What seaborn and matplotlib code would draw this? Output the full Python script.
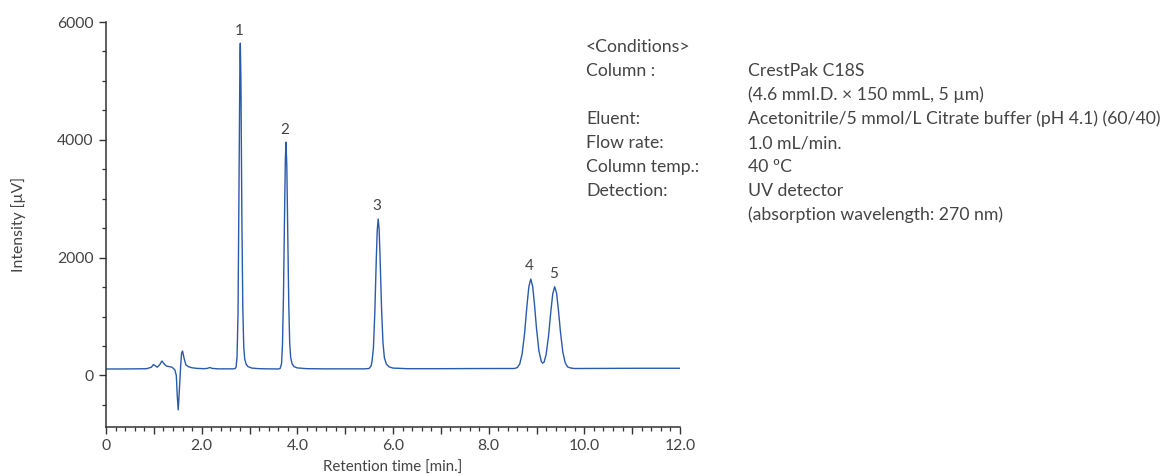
import matplotlib
matplotlib.use("Agg")
import matplotlib.pyplot as plt
import matplotlib.ticker as mticker
import seaborn as sns
import pandas as pd

# ---- data: chromatogram trace ----
time_min = [
    0.0, 0.3, 0.6, 0.85, 0.95, 0.99, 1.03, 1.07, 1.12, 1.17, 1.21, 1.26, 1.32, 1.38,
    1.44, 1.47, 1.49, 1.51, 1.53, 1.56, 1.58, 1.60, 1.63, 1.67, 1.72, 1.80, 1.90,
    2.05, 2.12, 2.17, 2.22, 2.35, 2.50, 2.66,
    2.70, 2.72, 2.74, 2.76, 2.78, 2.80, 2.808, 2.82, 2.84, 2.86, 2.88, 2.90, 2.93,
    2.97, 3.05, 3.20, 3.40, 3.60,
    3.64, 3.67, 3.69, 3.71, 3.73, 3.75, 3.763, 3.78, 3.80, 3.82, 3.84, 3.86, 3.89,
    3.93, 4.00, 4.20, 4.60, 5.00, 5.40,
    5.50, 5.54, 5.56, 5.59, 5.62, 5.65, 5.67, 5.69, 5.71, 5.73, 5.76, 5.79, 5.82,
    5.86, 5.92, 6.00, 6.30, 7.00, 7.60, 8.20, 8.50,
    8.55, 8.60, 8.65, 8.70, 8.75, 8.80, 8.84, 8.88, 8.92, 8.96, 9.00, 9.05, 9.10,
    9.13, 9.16, 9.20, 9.25, 9.30, 9.34, 9.38, 9.42, 9.46, 9.50, 9.55, 9.60, 9.65,
    9.72, 9.80, 10.5, 11.2, 12.0,
]
intensity_uv = [
    110, 110, 112, 115, 140, 185, 165, 140, 180, 245, 200, 160, 150, 140,
    95, 0, -350, -585, -300, 150, 380, 415, 300, 180, 150, 130, 120,
    115, 120, 135, 120, 112, 112, 112,
    118, 145, 320, 1050, 3150, 5400, 5640, 5050, 2700, 1150, 480, 280, 190,
    150, 125, 115, 112, 110,
    118, 200, 540, 1340, 2580, 3690, 3960, 3560, 2400, 1250, 560, 310, 200,
    150, 128, 115, 112, 112, 112,
    118, 160, 230, 460, 1070, 1960, 2460, 2655, 2480, 2000, 1150, 560, 300,
    195, 145, 125, 115, 115, 117, 118, 118,
    120, 135, 196, 369, 708, 1180, 1506, 1637, 1510, 1185, 800, 422, 236,
    210, 229, 352, 657, 1090, 1387, 1506, 1395, 1095, 745, 400, 215, 145,
    125, 118, 120, 122, 122,
]

# peak labels and their apex positions
peak_labels = ["1", "2", "3", "4", "5"]
peak_times = [2.808, 3.763, 5.69, 8.88, 9.38]
peak_heights = [5640, 3960, 2655, 1637, 1506]

x_tick_values = [0, 2, 4, 6, 8, 10, 12]
x_tick_labels = ["0", "2.0", "4.0", "6.0", "8.0", "10.0", "12.0"]
y_tick_values = [0, 2000, 4000, 6000]

cond_labels = ["<Conditions>", "Column :", "", "Eluent:", "Flow rate:",
               "Column temp.:", "Detection:", ""]
cond_values = ["", "CrestPak C18S", "(4.6 mmI.D. \u00d7 150 mmL, 5 \u00b5m)",
               "Acetonitrile/5 mmol/L Citrate buffer (pH 4.1) (60/40)",
               "1.0 mL/min.", "40 \u00baC", "UV detector",
               "(absorption wavelength: 270 nm)"]

# ---- styling ----
sns.set_theme(style="ticks")
plt.rcParams["font.family"] = ["Lato", "DejaVu Sans"]
TXT = "#444444"
LINE = "#2a5aac"

fig = plt.figure(figsize=(11.63, 4.75), dpi=100)
ax = fig.add_axes([106 / 1163, 48 / 475, 574 / 1163, 405 / 475])

df = pd.DataFrame({"t": time_min, "v": intensity_uv})
sns.lineplot(data=df, x="t", y="v", ax=ax, color=LINE, linewidth=1.0,
             sort=False, estimator=None)

ax.set_xlim(0, 12)
ax.set_ylim(-875, 6000)
ax.xaxis.set_major_locator(mticker.MultipleLocator(1.0))
ax.xaxis.set_minor_locator(mticker.MultipleLocator(0.2))
ax.xaxis.set_major_formatter(mticker.FuncFormatter(
    lambda v, p: dict(zip(x_tick_values, x_tick_labels)).get(int(round(v)), "")
    if abs(v - round(v)) < 1e-6 else ""))
ax.yaxis.set_major_locator(mticker.FixedLocator(y_tick_values))
ax.yaxis.set_minor_locator(mticker.MultipleLocator(500))

for s in ["top", "right"]:
    ax.spines[s].set_visible(False)
for s in ["left", "bottom"]:
    ax.spines[s].set_color("#333333")
    ax.spines[s].set_linewidth(1.1)

ax.tick_params(which="major", length=5, width=1.0, color="#333333",
               labelsize=11.3, labelcolor=TXT, pad=4)
ax.tick_params(which="minor", length=3, width=0.9, color="#333333")

ax.set_xlabel("Retention time [min.]", fontsize=10.8, color=TXT, labelpad=5)
ax.set_ylabel("Intensity [\u00b5V]", fontsize=11.3, color=TXT, labelpad=22)

for lab, t, h in zip(peak_labels, peak_times, peak_heights):
    ax.annotate(lab, xy=(t, h), xytext=(-1, 4), textcoords="offset points",
                ha="center", va="bottom", fontsize=11, color=TXT)

y0 = 1 - 47 / 475
dy = 24 / 475
for i, (lab, val) in enumerate(zip(cond_labels, cond_values)):
    y = y0 - i * dy
    if lab:
        fig.text(586 / 1163, y, lab, fontsize=12.7, color=TXT, va="center", ha="left")
    if val:
        fig.text(748 / 1163, y, val, fontsize=12.7, color=TXT, va="center", ha="left")

fig.savefig("out.png", dpi=100)
